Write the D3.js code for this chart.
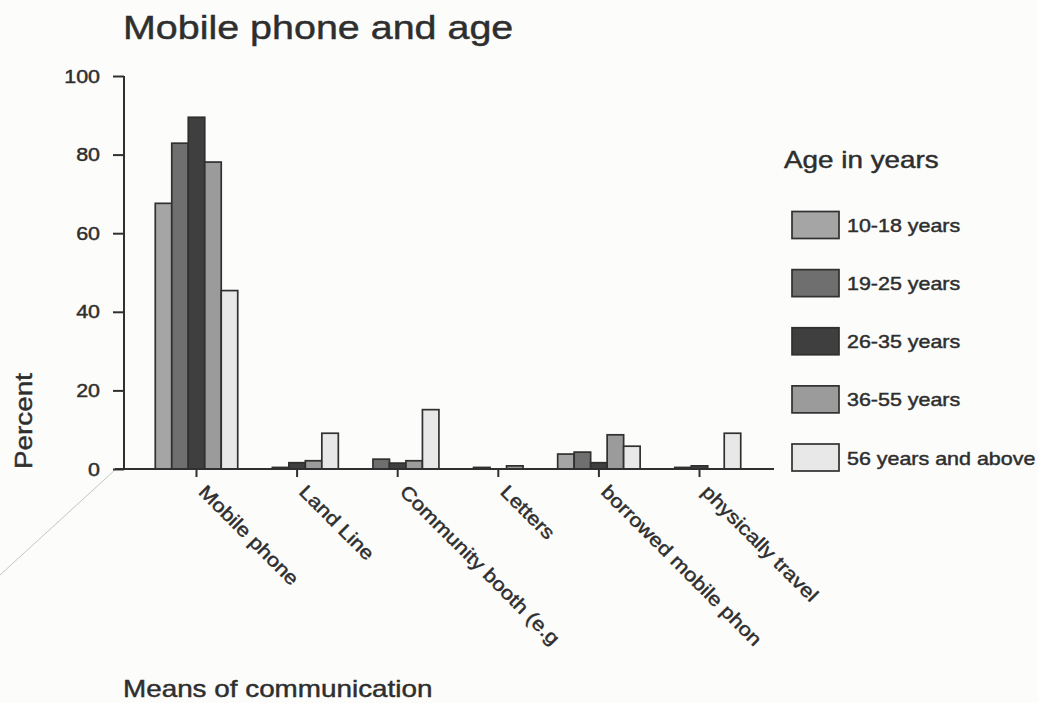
<!DOCTYPE html>
<html>
<head>
<meta charset="utf-8">
<script src="https://cdn.jsdelivr.net/npm/d3@7"></script>
<style>
  html, body { margin: 0; padding: 0; background: #fcfcfb; }
  svg { display: block; }
  text { font-family: Arial, "Liberation Sans", sans-serif; fill: #2e2e2e; stroke: #2e2e2e; stroke-width: 0.45px; }
</style>
</head>
<body>
<svg id="chart" width="1038" height="703"></svg>
<script>
// Means of communication by age group (percent)
const categories = ["Mobile phone", "Land Line", "Community booth (e.g", "Letters", "borrowed mobile phon", "physically travel"];
const ageGroups = ["10-18 years", "19-25 years", "26-35 years", "36-55 years", "56 years and above"];
const age10to18 = [67.6, 0,   0,    0,   3.8, 0];
const age19to25 = [82.9, 0.4, 2.5,  0.4, 4.3, 0.4];
const age26to35 = [89.5, 1.6, 1.5,  0,   1.6, 0.8];
const age36to55 = [78.1, 2.1, 2.1,  0.8, 8.7, 0];
const age56plus = [45.4, 9.1, 15.1, 0,   5.8, 9.1];
const yTicks = [0, 20, 40, 60, 80, 100];

const seriesValues = [age10to18, age19to25, age26to35, age36to55, age56plus];
const fills = ["#a5a5a5", "#6f6f6f", "#3f3f3f", "#9b9b9b", "#e8e8e8"];
const ink = "#303030";
const stretch = 1.16; // glyphs of this chart's font run wider than Arial

const svg = d3.select("#chart");

const x = d3.scaleBand().domain(categories).range([146.2, 749.8]).paddingInner(0).paddingOuter(0);
const xs = d3.scaleBand().domain(ageGroups).range([0, x.bandwidth()]).paddingInner(0).paddingOuter(0.55);
const y = d3.scaleLinear().domain([0, 100]).range([469, 76]);
const color = d3.scaleOrdinal().domain(ageGroups).range(fills);

function label(g, str, tx, ty, size, opts = {}) {
  const rot = opts.rotate || 0;
  return g.append("text")
    .attr("transform", `translate(${tx},${ty}) rotate(${rot}) scale(${stretch},1)`)
    .attr("text-anchor", opts.anchor || "start")
    .style("font-size", size + "px")
    .text(str);
}

// faint diagonal line at the lower left of the plot
svg.append("line")
  .attr("x1", 0).attr("y1", 575).attr("x2", 116).attr("y2", 469)
  .attr("stroke", "#c4c4c4").attr("stroke-width", 1);

// title
label(svg, "Mobile phone and age", 123, 39, 34);

// bars
const rows = [];
categories.forEach((c, i) => {
  ageGroups.forEach((a, j) => {
    rows.push({ cat: c, group: a, value: seriesValues[j][i] });
  });
});
svg.append("g").selectAll("rect")
  .data(rows.filter(d => d.value > 0))
  .join("rect")
  .attr("x", d => x(d.cat) + xs(d.group))
  .attr("y", d => y(d.value))
  .attr("width", xs.bandwidth())
  .attr("height", d => y(0) - y(d.value))
  .attr("fill", d => color(d.group))
  .attr("stroke", ink)
  .attr("stroke-width", 1.7);

// y axis
const yAxis = svg.append("g")
  .attr("transform", "translate(124,0)")
  .call(d3.axisLeft(y).tickValues(yTicks).tickSize(11).tickPadding(0).tickFormat(d3.format("d")));
yAxis.select(".domain").attr("d", `M0,${y(100)}V${y(0)}`).attr("stroke", ink).attr("stroke-width", 2);
yAxis.selectAll(".tick line").attr("stroke", ink).attr("stroke-width", 2);
yAxis.selectAll(".tick text").remove();
yTicks.forEach(t => label(svg, String(t), 100, y(t) + 6.5, 18.5, { anchor: "end" }));

// x axis
const xAxis = svg.append("g")
  .attr("transform", `translate(0,${y(0)})`)
  .call(d3.axisBottom(x).tickSize(8).tickFormat(""));
xAxis.select(".domain").attr("d", "M115,0H774").attr("stroke", ink).attr("stroke-width", 2);
xAxis.selectAll(".tick line").attr("stroke", ink).attr("stroke-width", 2);
categories.forEach(c => {
  label(svg, c, x(c) + x.bandwidth() / 2 + 1, 493, 19, { rotate: 45 });
});

// axis titles
label(svg, "Percent", 32, 421, 24, { rotate: -90, anchor: "middle" });
label(svg, "Means of communication", 123, 697, 24);

// legend
const legend = svg.append("g");
label(legend, "Age in years", 784, 168, 24);
const legendY = d3.scalePoint().domain(ageGroups).range([225, 457.5]);
ageGroups.forEach(a => {
  legend.append("rect")
    .attr("x", 792).attr("y", legendY(a) - 13.5)
    .attr("width", 47).attr("height", 27)
    .attr("fill", color(a)).attr("stroke", ink).attr("stroke-width", 1.7);
  label(legend, a, 847, legendY(a) + 7, 18.5);
});
</script>
</body>
</html>
